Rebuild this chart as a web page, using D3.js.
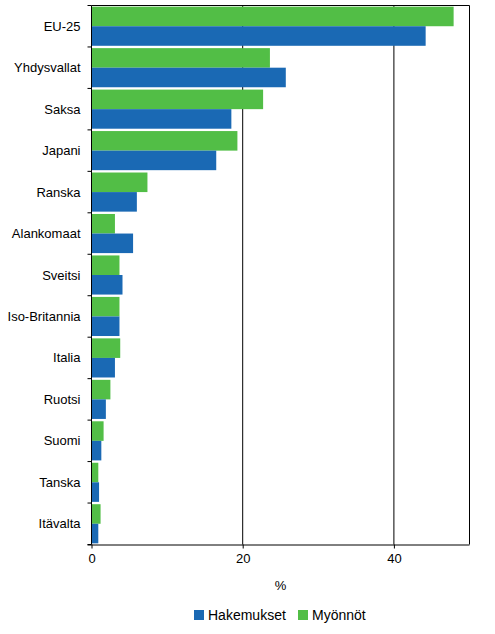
<!DOCTYPE html>
<html><head><meta charset="utf-8">
<script src="https://cdn.jsdelivr.net/npm/d3@7"></script>
<style>body{margin:0;background:#fff}svg{display:block}text{font-family:"Liberation Sans",Arial,sans-serif;fill:#000}</style>
</head><body><svg id="c" width="495" height="634"></svg>
<script>
const categories = ["EU-25","Yhdysvallat","Saksa","Japani","Ranska","Alankomaat","Sveitsi","Iso-Britannia","Italia","Ruotsi","Suomi","Tanska","Itävalta"];
const myonnot =    [47.9, 23.6, 22.7, 19.3, 7.4, 3.1, 3.7, 3.7, 3.8, 2.5, 1.6, 0.9, 1.2];
const hakemukset = [44.2, 25.7, 18.5, 16.5, 6.0, 5.5, 4.1, 3.7, 3.1, 1.9, 1.3, 1.0, 0.9];
const xTicks = [0, 20, 40];
const seriesNames = ["Hakemukset", "Myönnöt"];
const colors = {"Hakemukset": "#1a69b4", "Myönnöt": "#52be46"};

const svg = d3.select("#c");
const L = 91.5, R = 469.5, T = 5.5, B = 544.5;
const x = d3.scaleLinear().domain([0, 50]).range([L, R]);
const y = d3.scaleBand().domain(categories).range([T, B]).paddingInner(0).paddingOuter(0);
const inner = d3.scaleBand().domain(["Myönnöt","Hakemukset"]).range([0, y.bandwidth()]).paddingOuter(0.06).paddingInner(0);

// gridlines
svg.append("g").selectAll("line").data(xTicks.filter(d => d > 0)).join("line")
  .attr("x1", d => x(d)).attr("x2", d => x(d)).attr("y1", T).attr("y2", B)
  .attr("stroke", "#000").attr("stroke-width", 1);

// bars
const g = svg.append("g");
categories.forEach((c, i) => {
  g.append("rect").attr("x", x(0)).attr("y", y(c) + inner("Myönnöt"))
    .attr("width", x(myonnot[i]) - x(0)).attr("height", inner.bandwidth())
    .attr("fill", colors["Myönnöt"]);
  g.append("rect").attr("x", x(0)).attr("y", y(c) + inner("Hakemukset"))
    .attr("width", x(hakemukset[i]) - x(0)).attr("height", inner.bandwidth())
    .attr("fill", colors["Hakemukset"]);
});

// frame top and right
svg.append("line").attr("x1", L).attr("x2", R).attr("y1", T).attr("y2", T).attr("stroke", "#000");
svg.append("line").attr("x1", R).attr("x2", R).attr("y1", T).attr("y2", B).attr("stroke", "#000");

// x axis
const xAxis = svg.append("g").attr("transform", `translate(0,${B})`)
  .call(d3.axisBottom(x).tickValues(xTicks).tickSize(4).tickPadding(5));
xAxis.select(".domain").attr("stroke", "#000").attr("d", `M${L-4},0.5H${R}`);
xAxis.selectAll(".tick text").style("font-size", "13px").style("font-family", '"Liberation Sans",Arial,sans-serif');

// y axis (ticks at band boundaries)
svg.append("line").attr("x1", L).attr("x2", L).attr("y1", T).attr("y2", B).attr("stroke", "#000");
const bounds = categories.map(c => y(c)).concat([B]);
svg.append("g").selectAll("line").data(bounds).join("line")
  .attr("x1", L - 4).attr("x2", L).attr("y1", d => d).attr("y2", d => d).attr("stroke", "#000");
svg.append("g").selectAll("text").data(categories).join("text")
  .attr("x", 80.5).attr("y", d => y(d) + y.bandwidth() / 2)
  .attr("text-anchor", "end").attr("dominant-baseline", "central")
  .style("font-size", "13px").text(d => d);

// axis title
svg.append("text").attr("x", (L + R) / 2).attr("y", 590).attr("text-anchor", "middle")
  .style("font-size", "13px").text("%");

// legend
const legX = [194, 298];
seriesNames.forEach((s, i) => {
  svg.append("rect").attr("x", legX[i]).attr("y", 610).attr("width", 10).attr("height", 10).attr("fill", colors[s]);
  svg.append("text").attr("x", legX[i] + 14).attr("y", 620).style("font-size", "14px").text(s);
});
</script></body></html>
